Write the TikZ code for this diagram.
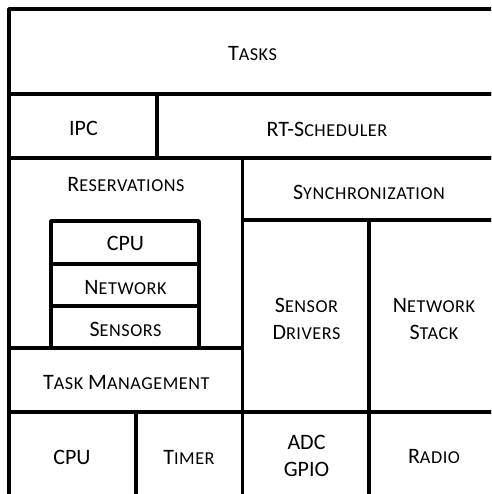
\documentclass[tikz,border=0pt]{standalone}
\usepackage{fontspec}
\setmainfont{Carlito}
\usetikzlibrary{fit}
% small caps built from capitals: full-size first letter, smaller and slightly spaced rest
\newcommand\smc[2]{#1{\fontsize{18.2}{20}\selectfont\addfontfeature{LetterSpace=3}#2}}
\tikzset{
  layer/.style={draw=black, line width=3.8pt, line join=round, inner sep=0pt, rectangle},
  lbl/.style={inner sep=0pt, align=center, font=\fontsize{22}{26.7}\selectfont}
}
\begin{document}
\begin{tikzpicture}[x=1pt, y=-1pt]
\useasboundingbox (0,0) rectangle (491,494);
\clip (0,0) rectangle (491,494);
% software layers
\node[layer, fit={(9,9) (497,94)}] (tasks) {};
\node[layer, fit={(9,94) (157,158)}] (ipc) {};
\node[layer, fit={(157,94) (497,158)}] (sched) {};
\node[layer, fit={(9,158) (242.5,348)}] (resv) {};
\node[layer, fit={(242.5,158) (497,220)}] (sync) {};
\node[layer, fit={(51,221) (199,264)}] (rcpu) {};
\node[layer, fit={(51,264) (199,306)}] (rnet) {};
\node[layer, fit={(51,306) (199,348)}] (rsens) {};
\node[layer, fit={(242.5,220) (369,412)}] (sdrv) {};
\node[layer, fit={(369,220) (497,412)}] (nstack) {};
\node[layer, fit={(9,348) (242.5,412)}] (tmgmt) {};
% hardware row
\node[layer, fit={(9,412) (136,502)}] (hcpu) {};
\node[layer, fit={(136,412) (242.5,502)}] (timer) {};
\node[layer, fit={(242.5,412) (369,502)}] (adc) {};
\node[layer, fit={(369,412) (497,502)}] (radio) {};
% labels
\node[lbl] (tasksT) at (252.5,54) {\smc{T}{ASKS}};
\node[lbl] (ipcT) at (83.5,128.7) {IPC};
\node[lbl] (schedT) at (327,129) {RT-\smc{S}{CHEDULER}};
\node[lbl] (resvT) at (126,185) {\smc{R}{ESERVATIONS}};
\node[lbl] (syncT) at (369,192.5) {\smc{S}{YNCHRONIZATION}};
\node[lbl] (rcpuT) at (125.5,243) {CPU};
\node[lbl] (rnetT) at (125.5,287.5) {\smc{N}{ETWORK}};
\node[lbl] (rsensT) at (125.5,329) {\smc{S}{ENSORS}};
\node[lbl] (sdrvT) at (306.5,318.8) {\smc{S}{ENSOR}\\\smc{D}{RIVERS}};
\node[lbl] (nstackT) at (434,318.8) {\smc{N}{ETWORK}\\\smc{S}{TACK}};
\node[lbl] (tmgmtT) at (126.3,382.5) {\smc{T}{ASK} \smc{M}{ANAGEMENT}};
\node[lbl] (hcpuT) at (72,457) {CPU};
\node[lbl] (timerT) at (189,457) {\smc{T}{IMER}};
\node[lbl] (adcT) at (306.5,456) {ADC\\GPIO};
\node[lbl] (radioT) at (434,456) {\smc{R}{ADIO}};
\end{tikzpicture}
\end{document}
